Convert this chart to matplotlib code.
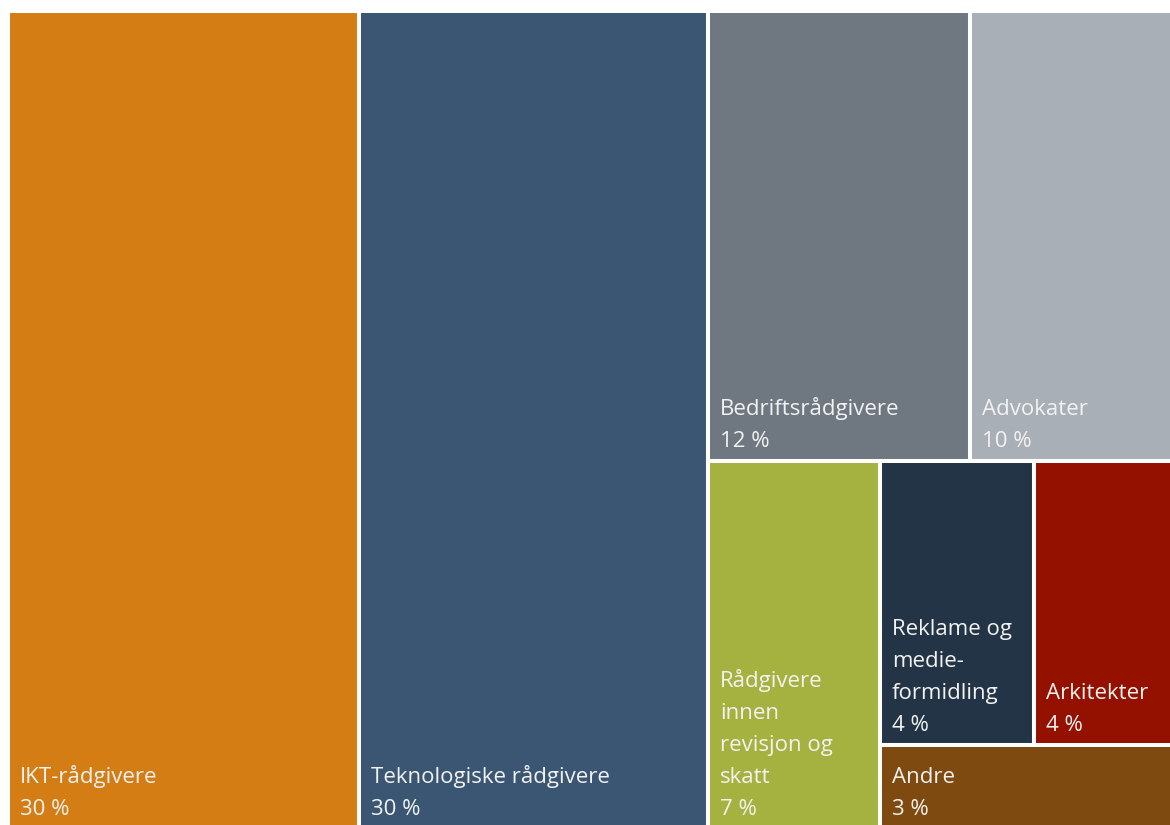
import matplotlib
matplotlib.use("Agg")
import matplotlib.pyplot as plt
from matplotlib.patches import Rectangle

# ---- data ----
categories = ["IKT-rådgivere", "Teknologiske rådgivere", "Bedriftsrådgivere", "Advokater",
              "Rådgivere\ninnen\nrevisjon og\nskatt", "Reklame og\nmedie-\nformidling",
              "Arkitekter", "Andre"]
values = [30.05, 29.88, 12.34, 9.70, 6.62, 4.58, 4.22, 2.60]
value_labels = ["30 %", "30 %", "12 %", "10 %", "7 %", "4 %", "4 %", "3 %"]
colors = ["#D57D15", "#3A5673", "#6F7780", "#A9AFB6", "#A6B240", "#233447", "#941100", "#7F4A0F"]

# nested slice structure (h = side by side, v = stacked)
structure = ("h", [0, 1, ("v", [("h", [2, 3]), ("h", [4, ("v", [("h", [5, 6]), 7])])])])


def total(node):
    if isinstance(node, int):
        return values[node]
    return sum(total(c) for c in node[1])


def layout(node, x, y, w, h, out):
    if isinstance(node, int):
        out[node] = (x, y, w, h)
        return
    direction, children = node
    tot = total(node)
    pos = 0.0
    for c in children:
        frac = total(c) / tot
        if direction == "h":
            layout(c, x + pos * w, y, w * frac, h, out)
        else:
            layout(c, x, y + pos * h, w, h * frac, out)
        pos += frac


fig = plt.figure(figsize=(11.7, 8.25), dpi=100)
ax = fig.add_axes([0, 0, 1, 1])
ax.set_xlim(0, 1170)
ax.set_ylim(825, 0)
ax.axis("off")

rects = {}
layout(structure, 8, 11, 1168, 818, rects)

font = ["Open Sans", "DejaVu Sans"]
for i in range(len(values)):
    x, y, w, h = rects[i]
    ax.add_patch(Rectangle((x, y), w, h, facecolor=colors[i], edgecolor="white", linewidth=2.9))
    lines = categories[i].split("\n") + [value_labels[i]]
    base = y + h - 14
    for k, line in enumerate(reversed(lines)):
        ax.text(x + 12, base - 32 * k, line, color="#F2F2F2", fontsize=16,
                family=font, va="baseline", ha="left")

fig.savefig("out.png", dpi=100)
